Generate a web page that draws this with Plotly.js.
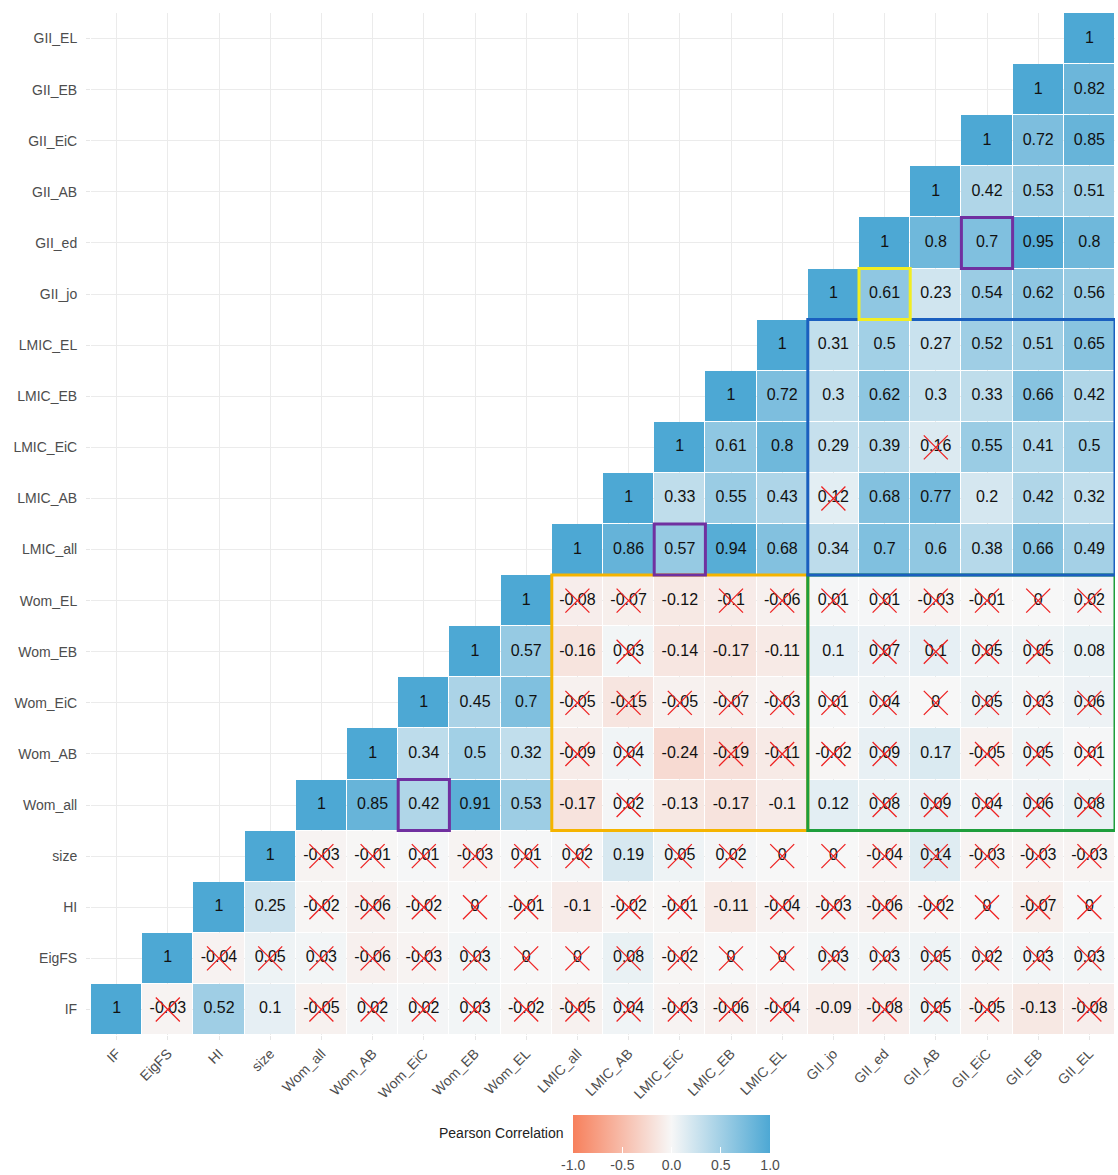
<!DOCTYPE html>
<html>
<head>
<meta charset="utf-8">
<script src="https://cdn.plot.ly/plotly-3.0.1.min.js"></script>
<style>html,body{margin:0;padding:0;background:#fff;}#chart{width:1118px;height:1175px;}</style>
</head>
<body>
<div id="chart"></div>
<script>
// Variables (bottom-to-top on y, left-to-right on x)
const vars = ['IF','EigFS','HI','size','Wom_all','Wom_AB','Wom_EiC','Wom_EB','Wom_EL','LMIC_all','LMIC_AB','LMIC_EiC','LMIC_EB','LMIC_EL','GII_jo','GII_ed','GII_AB','GII_EiC','GII_EB','GII_EL'];

// Correlation values per row, starting at the diagonal cell
const r_IF       = [1,-0.03,0.52,0.1,-0.05,0.02,0.02,0.03,-0.02,-0.05,0.04,-0.03,-0.06,-0.04,-0.09,-0.08,0.05,-0.05,-0.13,-0.08];
const r_EigFS    = [1,-0.04,0.05,0.03,-0.06,-0.03,0.03,0,0,0.08,-0.02,0,0,0.03,0.03,0.05,0.02,0.03,0.03];
const r_HI       = [1,0.25,-0.02,-0.06,-0.02,0,-0.01,-0.1,-0.02,-0.01,-0.11,-0.04,-0.03,-0.06,-0.02,0,-0.07,0];
const r_size     = [1,-0.03,-0.01,0.01,-0.03,0.01,0.02,0.19,0.05,0.02,0,0,-0.04,0.14,-0.03,-0.03,-0.03];
const r_Wom_all  = [1,0.85,0.42,0.91,0.53,-0.17,0.02,-0.13,-0.17,-0.1,0.12,0.08,0.09,0.04,0.06,0.08];
const r_Wom_AB   = [1,0.34,0.5,0.32,-0.09,0.04,-0.24,-0.19,-0.11,-0.02,0.09,0.17,-0.05,0.05,0.01];
const r_Wom_EiC  = [1,0.45,0.7,-0.05,-0.15,-0.05,-0.07,-0.03,0.01,0.04,0,0.05,0.03,0.06];
const r_Wom_EB   = [1,0.57,-0.16,0.03,-0.14,-0.17,-0.11,0.1,0.07,0.1,0.05,0.05,0.08];
const r_Wom_EL   = [1,-0.08,-0.07,-0.12,-0.1,-0.06,0.01,0.01,-0.03,-0.01,0,0.02];
const r_LMIC_all = [1,0.86,0.57,0.94,0.68,0.34,0.7,0.6,0.38,0.66,0.49];
const r_LMIC_AB  = [1,0.33,0.55,0.43,0.12,0.68,0.77,0.2,0.42,0.32];
const r_LMIC_EiC = [1,0.61,0.8,0.29,0.39,0.16,0.55,0.41,0.5];
const r_LMIC_EB  = [1,0.72,0.3,0.62,0.3,0.33,0.66,0.42];
const r_LMIC_EL  = [1,0.31,0.5,0.27,0.52,0.51,0.65];
const r_GII_jo   = [1,0.61,0.23,0.54,0.62,0.56];
const r_GII_ed   = [1,0.8,0.7,0.95,0.8];
const r_GII_AB   = [1,0.42,0.53,0.51];
const r_GII_EiC  = [1,0.72,0.85];
const r_GII_EB   = [1,0.82];
const r_GII_EL   = [1];

// Non-significant flags (1 = crossed out), same layout as the rows above
const x_IF       = [0,1,0,0,1,1,1,1,1,1,1,1,1,1,0,1,1,1,0,1];
const x_EigFS    = [0,1,1,1,1,1,1,1,1,1,1,1,1,1,1,1,1,1,1];
const x_HI       = [0,0,1,1,1,1,1,0,1,1,0,1,1,1,1,1,1,1];
const x_size     = [0,1,1,1,1,1,1,0,1,1,1,1,1,1,1,1,1];
const x_Wom_all  = [0,0,0,0,0,0,1,0,0,0,0,1,1,1,1,1];
const x_Wom_AB   = [0,0,0,0,1,1,0,1,1,1,1,0,1,1,1];
const x_Wom_EiC  = [0,0,0,1,1,1,1,1,1,1,1,1,1,1];
const x_Wom_EB   = [0,0,0,1,0,0,0,0,1,1,1,1,0];
const x_Wom_EL   = [0,1,1,0,1,1,1,1,1,1,1,1];
const x_LMIC_all = [0,0,0,0,0,0,0,0,0,0,0];
const x_LMIC_AB  = [0,0,0,0,1,0,0,0,0,0];
const x_LMIC_EiC = [0,0,0,0,0,1,0,0,0];
const x_LMIC_EB  = [0,0,0,0,0,0,0,0];
const x_LMIC_EL  = [0,0,0,0,0,0,0];
const x_GII_jo   = [0,0,0,0,0,0];
const x_GII_ed   = [0,0,0,0,0];
const x_GII_AB   = [0,0,0,0];
const x_GII_EiC  = [0,0,0];
const x_GII_EB   = [0,0];
const x_GII_EL   = [0];

// Colour scale ends and legend labels
const colorLow = '#F7805C', colorMid = '#F7F7F7', colorHigh = '#4DA8D4';
const legendTicks = [-1, -0.5, 0, 0.5, 1];
const legendTickText = ['-1.0','-0.5','0.0','0.5','1.0'];
const legendTitle = 'Pearson Correlation';

const rows = [r_IF,r_EigFS,r_HI,r_size,r_Wom_all,r_Wom_AB,r_Wom_EiC,r_Wom_EB,r_Wom_EL,r_LMIC_all,r_LMIC_AB,r_LMIC_EiC,r_LMIC_EB,r_LMIC_EL,r_GII_jo,r_GII_ed,r_GII_AB,r_GII_EiC,r_GII_EB,r_GII_EL];
const flags = [x_IF,x_EigFS,x_HI,x_size,x_Wom_all,x_Wom_AB,x_Wom_EiC,x_Wom_EB,x_Wom_EL,x_LMIC_all,x_LMIC_AB,x_LMIC_EiC,x_LMIC_EB,x_LMIC_EL,x_GII_jo,x_GII_ed,x_GII_AB,x_GII_EiC,x_GII_EB,x_GII_EL];

const n = vars.length;
const z = [];
const tx = [], ty = [], tt = [];
const cx = [], cy = [];
for (let i = 0; i < n; i++) {
  const row = new Array(n).fill(null);
  for (let k = 0; k < rows[i].length; k++) {
    const j = i + k;
    row[j] = rows[i][k];
    tx.push(vars[j]); ty.push(vars[i]); tt.push(String(rows[i][k]));
    if (flags[i][k]) { cx.push(vars[j]); cy.push(vars[i]); }
  }
  z.push(row);
}

const font = 'Liberation Sans, Arial, Helvetica, sans-serif';

const heat = {
  type: 'heatmap', x: vars, y: vars, z: z,
  zmin: -1, zmax: 1,
  colorscale: [[0, colorLow], [0.5, colorMid], [1, colorHigh]],
  xgap: 1, ygap: 1, hoverinfo: 'skip',
  showscale: true,
  colorbar: {
    orientation: 'h', x: 0.567, xanchor: 'center', y: -0.0783, yanchor: 'top',
    len: 217, lenmode: 'pixels', thickness: 38, thicknessmode: 'pixels',
    xpad: 10, ypad: 0,
    outlinewidth: 0, tickvals: legendTicks, ticktext: legendTickText,
    ticks: 'inside', ticklen: 6, tickcolor: '#ffffff', tickwidth: 1,
    tickfont: {family: font, size: 14, color: '#4d4d4d'}
  }
};

const labels = {
  type: 'scatter', mode: 'text', x: tx, y: ty, text: tt,
  textfont: {family: font, size: 16, color: '#111111'},
  hoverinfo: 'skip', showlegend: false, cliponaxis: false
};

const crosses = {
  type: 'scatter', mode: 'markers', x: cx, y: cy,
  marker: {symbol: 'x-thin', size: 24, color: '#EE2222', line: {color: '#EE2222', width: 1.3}},
  hoverinfo: 'skip', showlegend: false
};

const idx = name => vars.indexOf(name);
function box(c0, c1, r0, r1, color) {
  return {type: 'rect', xref: 'x', yref: 'y',
    x0: idx(c0) - 0.5, x1: idx(c1) + 0.5, y0: idx(r0) - 0.5, y1: idx(r1) + 0.5,
    line: {color: color, width: 3}, fillcolor: 'rgba(0,0,0,0)', layer: 'above'};
}
const shapes = [
  box('LMIC_all','LMIC_EL','Wom_all','Wom_EL','#F5B400'),
  box('GII_jo','GII_EL','Wom_all','Wom_EL','#1E9E3C'),
  box('GII_jo','GII_EL','LMIC_all','LMIC_EL','#1A5FBF'),
  box('GII_ed','GII_ed','GII_jo','GII_jo','#F2EE22'),
  box('GII_EiC','GII_EiC','GII_ed','GII_ed','#7030A0'),
  box('LMIC_EiC','LMIC_EiC','LMIC_all','LMIC_all','#7030A0'),
  box('Wom_EiC','Wom_EiC','Wom_all','Wom_all','#7030A0')
];

const axisCommon = {
  type: 'category', categoryorder: 'array', categoryarray: vars,
  range: [-0.5, n - 0.5], autorange: false,
  showgrid: true, gridcolor: '#EBEBEB', gridwidth: 1,
  zeroline: false, showline: false,
  ticks: 'outside', ticklen: 4, tickcolor: '#E6E6E6',
  tickfont: {family: font, size: 14, color: '#4d4d4d'},
  fixedrange: true, automargin: false
};

const layout = {
  width: 1118, height: 1175,
  margin: {l: 91, r: 3, t: 13, b: 140, autoexpand: false},
  paper_bgcolor: '#ffffff', plot_bgcolor: '#ffffff',
  xaxis: Object.assign({}, axisCommon, {tickangle: -45}),
  yaxis: Object.assign({}, axisCommon, {ticklabelstandoff: 6}),
  shapes: shapes,
  showlegend: false,
  annotations: [{
    text: legendTitle, xref: 'paper', yref: 'paper', x: 0.464, y: -0.096,
    xanchor: 'right', yanchor: 'middle', showarrow: false,
    font: {family: font, size: 14, color: '#222222'}
  }]
};

Plotly.newPlot('chart', [heat, labels, crosses], layout, {displayModeBar: false, staticPlot: true});
</script>
</body>
</html>
